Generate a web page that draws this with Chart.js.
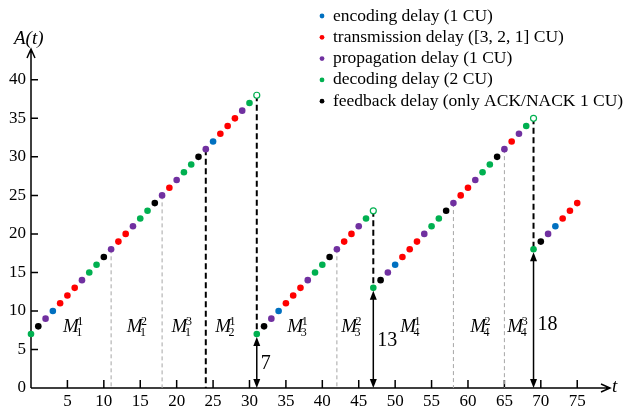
<!DOCTYPE html>
<html>
<head>
<meta charset="utf-8">
<script src="https://cdn.jsdelivr.net/npm/chart.js@4.4.0/dist/chart.umd.min.js"></script>
<style>
html, body { margin: 0; padding: 0; background: #fff; }
</style>
</head>
<body>
<canvas id="aoi" width="630" height="407"></canvas>
<script>
// time slots and age values, one entry per dot, split by age segment
var seg1T = [0,1,2,3,4,5,6,7,8,9,10,11,12,13,14,15,16,17,18,19,20,21,22,23,24,25,26,27,28,29,30];
var seg1A = [7,8,9,10,11,12,13,14,15,16,17,18,19,20,21,22,23,24,25,26,27,28,29,30,31,32,33,34,35,36,37];
var seg1K = ['G','K','P','B','R','R','R','P','G','G','K','P','R','R','P','G','G','K','P','R','P','G','G','K','P','B','R','R','R','P','G'];

var seg2T = [31,32,33,34,35,36,37,38,39,40,41,42,43,44,45,46];
var seg2A = [7,8,9,10,11,12,13,14,15,16,17,18,19,20,21,22];
var seg2K = ['G','K','P','B','R','R','R','P','G','G','K','P','R','R','P','G'];

var seg3T = [47,48,49,50,51,52,53,54,55,56,57,58,59,60,61,62,63,64,65,66,67,68];
var seg3A = [13,14,15,16,17,18,19,20,21,22,23,24,25,26,27,28,29,30,31,32,33,34];
var seg3K = ['G','K','P','B','R','R','R','P','G','G','K','P','R','R','P','G','G','K','P','R','P','G'];

var seg4T = [69,70,71,72,73,74,75];
var seg4A = [18,19,20,21,22,23,24];
var seg4K = ['G','K','P','B','R','R','R'];

// open circles just before each drop
var openT = [31,47,69];
var openA = [38,23,35];

// drops of the age (double arrows)
var dropT = [31,47,69];
var dropA = [7,13,18];

// vertical boundary lines
var thinLineT = [11,18,42,58,65];
var thinLineA = [18,25,18,24,31];
var thickLineT = [24,31,47,69];
var thickLineTop = [31,38,23,35];
var thickLineBottom = [0,7,13,18];

// message labels M_sub^sup
var msgSub = [1,1,1,2,3,3,4,4,4];
var msgSup = [1,2,3,1,1,2,1,2,3];

var xTicks = [5,10,15,20,25,30,35,40,45,50,55,60,65,70,75];
var yTicks = [0,5,10,15,20,25,30,35,40];

var kindOrder = ['B','R','P','G','K'];
var kindColor = { B: '#0070c0', R: '#ff0000', P: '#7030a0', G: '#00b050', K: '#000000' };
var kindLabel = {
    B: 'encoding delay (1 CU)',
    R: 'transmission delay ([3, 2, 1] CU)',
    P: 'propagation delay (1 CU)',
    G: 'decoding delay (2 CU)',
    K: 'feedback delay (only ACK/NACK 1 CU)'
};

var SERIF = '"Liberation Serif", "Times New Roman", serif';

function pointsOf(kind) {
    var pts = [];
    [[seg1T, seg1A, seg1K], [seg2T, seg2A, seg2K], [seg3T, seg3A, seg3K], [seg4T, seg4A, seg4K]].forEach(function (s) {
        s[2].forEach(function (k, i) {
            if (k === kind) pts.push({ x: s[0][i], y: s[1][i] });
        });
    });
    return pts;
}

var datasets = kindOrder.map(function (k) {
    return {
        label: kindLabel[k],
        data: pointsOf(k),
        backgroundColor: kindColor[k],
        borderWidth: 0,
        pointRadius: 3.3,
        clip: false
    };
});
datasets.push({
    label: 'open',
    data: openT.map(function (t, i) { return { x: t, y: openA[i] }; }),
    backgroundColor: '#ffffff',
    borderColor: kindColor.G,
    borderWidth: 1.2,
    pointRadius: 3,
    clip: false
});

// M labels: left edge in t units (placement only)
var msgAt = [4.4, 13.15, 19.3, 25.3, 35.2, 42.6, 50.7, 60.3, 65.4];
var dropLabelAt = [3.1, 6.1, 8.2];

function arrowHead(ctx, x, y, dir) {
    ctx.beginPath();
    ctx.moveTo(x, y);
    ctx.lineTo(x - 3.5, y - dir * 9);
    ctx.lineTo(x + 3.5, y - dir * 9);
    ctx.closePath();
    ctx.fill();
}

var decor = {
    id: 'decor',
    beforeDatasetsDraw: function (chart) {
        var ctx = chart.ctx, xs = chart.scales.x, ys = chart.scales.y;
        var X = function (v) { return xs.getPixelForValue(v); };
        var Y = function (v) { return ys.getPixelForValue(v); };
        var x0 = X(0), y0 = Y(0);
        ctx.save();
        ctx.strokeStyle = '#000';
        ctx.lineWidth = 1.5;
        ctx.beginPath();
        ctx.moveTo(x0, y0); ctx.lineTo(xs.right, y0);
        ctx.moveTo(x0, y0); ctx.lineTo(x0, ys.top);
        // arrow tips
        ctx.moveTo(xs.right - 9, y0 - 4); ctx.lineTo(xs.right, y0); ctx.lineTo(xs.right - 9, y0 + 4);
        ctx.moveTo(x0 - 4, ys.top + 9); ctx.lineTo(x0, ys.top); ctx.lineTo(x0 + 4, ys.top + 9);
        xTicks.forEach(function (v) { ctx.moveTo(X(v), y0); ctx.lineTo(X(v), y0 - 8); });
        yTicks.forEach(function (v) { if (v > 0) { ctx.moveTo(x0, Y(v)); ctx.lineTo(x0 + 7, Y(v)); } });
        ctx.stroke();

        // thin grey dashed lines
        ctx.strokeStyle = '#a6a6a6';
        ctx.lineWidth = 1;
        ctx.setLineDash([4, 3]);
        ctx.beginPath();
        thinLineT.forEach(function (t, i) { ctx.moveTo(X(t), Y(thinLineA[i])); ctx.lineTo(X(t), y0); });
        ctx.stroke();

        // thick black dashed lines
        ctx.strokeStyle = '#000';
        ctx.lineWidth = 2;
        ctx.setLineDash([6, 3.5]);
        ctx.beginPath();
        thickLineT.forEach(function (t, i) { ctx.moveTo(X(t), Y(thickLineTop[i])); ctx.lineTo(X(t), Y(thickLineBottom[i])); });
        ctx.stroke();
        ctx.restore();
    },
    afterDatasetsDraw: function (chart) {
        var ctx = chart.ctx, xs = chart.scales.x, ys = chart.scales.y;
        var X = function (v) { return xs.getPixelForValue(v); };
        var Y = function (v) { return ys.getPixelForValue(v); };
        var y0 = Y(0);
        ctx.save();
        ctx.fillStyle = '#000';
        ctx.strokeStyle = '#000';

        // double arrows for the drops
        ctx.lineWidth = 1.5;
        dropT.forEach(function (t, i) {
            var x = X(t), yt = Y(dropA[i]) + 3;
            ctx.beginPath(); ctx.moveTo(x, y0 - 6); ctx.lineTo(x, yt + 6); ctx.stroke();
            arrowHead(ctx, x, y0, 1);
            arrowHead(ctx, x, yt, -1);
            ctx.font = '20px ' + SERIF;
            ctx.textBaseline = 'middle';
            ctx.textAlign = 'left';
            ctx.fillText(String(dropA[i]), x + 4, Y(dropLabelAt[i]));
        });

        // message labels
        ctx.textBaseline = 'alphabetic';
        msgSub.forEach(function (s, i) {
            var x = X(msgAt[i]);
            ctx.font = 'italic 19px ' + SERIF;
            ctx.fillText('M', x, 332);
            var w = ctx.measureText('M').width;
            ctx.font = '12px ' + SERIF;
            ctx.fillText(String(msgSup[i]), x + w - 1.5, 325);
            ctx.fillText(String(s), x + w - 2.5, 336);
        });

        // axis names
        ctx.font = 'italic 19px ' + SERIF;
        ctx.fillText('A(t)', 14, 44);
        ctx.fillText('t', 612, 392);

        // legend
        ctx.font = '17.5px ' + SERIF;
        ctx.textBaseline = 'middle';
        kindOrder.forEach(function (k, i) {
            var yy = 16 + i * 21.3;
            ctx.fillStyle = kindColor[k];
            ctx.beginPath(); ctx.arc(322, yy, 2.4, 0, Math.PI * 2); ctx.fill();
            ctx.fillStyle = '#000';
            ctx.fillText(kindLabel[k], 333, yy);
        });
        ctx.restore();
    }
};

new Chart(document.getElementById('aoi'), {
    type: 'scatter',
    data: { datasets: datasets },
    options: {
        responsive: false,
        animation: false,
        devicePixelRatio: 1,
        layout: { padding: { top: 49, right: 20, left: 0, bottom: 0 } },
        plugins: { legend: { display: false }, tooltip: { enabled: false } },
        scales: {
            x: {
                type: 'linear', min: 0, max: 79.5,
                grid: { display: false, drawTicks: false },
                border: { display: false },
                afterBuildTicks: function (s) { s.ticks = xTicks.map(function (v) { return { value: v }; }); },
                afterFit: function (s) { s.height = 19; },
                ticks: { color: '#000', padding: 3, maxRotation: 0, autoSkip: false, font: { family: SERIF, size: 17 } }
            },
            y: {
                type: 'linear', min: 0, max: 44,
                grid: { display: false, drawTicks: false },
                border: { display: false },
                afterBuildTicks: function (s) { s.ticks = yTicks.map(function (v) { return { value: v }; }); },
                afterFit: function (s) { s.width = 31; },
                ticks: { color: '#000', padding: 5, autoSkip: false, font: { family: SERIF, size: 17 } }
            }
        }
    },
    plugins: [decor]
});
</script>
</body>
</html>
